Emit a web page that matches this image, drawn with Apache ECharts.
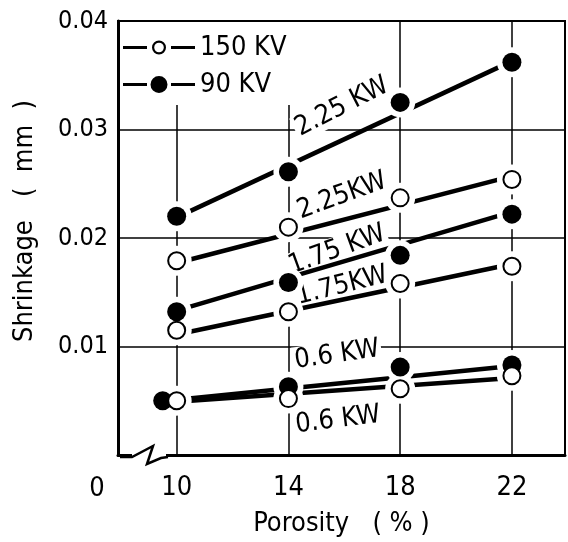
<!DOCTYPE html>
<html>
<head>
<meta charset="utf-8">
<script src="https://cdn.jsdelivr.net/npm/echarts@6/dist/echarts.min.js"></script>
<style>
  html, body { margin: 0; padding: 0; background: #fff; }
  #chart { width: 568px; height: 542px; }
</style>
</head>
<body>
<div id="chart"></div>
<script>
// porosity (%) where the samples were taken
const porosity = [10, 14, 18, 22];
// the 90 KV / 0.6 KW point at 10 % is drawn shifted left so it does not hide the open one
const porosity90low = [9.5, 14, 18, 22];
const xTicks = [10, 14, 18, 22];

// measured shrinkage (mm)
const kv150_225 = [0.0179, 0.0210, 0.0237, 0.0254];
const kv150_175 = [0.0115, 0.0132, 0.0158, 0.0174];
const kv150_06 = [0.0050, 0.0052, 0.0061, 0.0073];
const kv90_225 = [0.0220, 0.0261, 0.0325, 0.0362];
const kv90_175 = [0.0132, 0.0159, 0.0184, 0.0222];
const kv90_06 = [0.0050, 0.0063, 0.0081, 0.0083];

// straight fitted lines, value at 10 % and 22 %
const fitX = [10, 22];
const fit150_225 = [0.0177, 0.0257];
const fit150_175 = [0.0111, 0.0176];
const fit150_06 = [0.0049, 0.0071];
const fit90_225 = [0.0219, 0.0363];
const fit90_175 = [0.0133, 0.0224];
const fit90_06 = [0.0051, 0.0082];

const font = 'DejaVu Sans Condensed, DejaVu Sans, sans-serif';
const pair = (xs, ys) => ys.map((v, i) => [xs[i], v]);

const fits = [fit90_225, fit150_225, fit90_175, fit150_175, fit90_06, fit150_06];
const pts150 = [].concat(pair(porosity, kv150_225), pair(porosity, kv150_175), pair(porosity, kv150_06));
const pts90 = [].concat(pair(porosity, kv90_225), pair(porosity, kv90_175), pair(porosity90low, kv90_06));

// legend icons "—o—" and "—●—" (corner moves keep the box 72x18)
const box = 'M0 0 L0.01 0 Z M72 18 L71.99 18 Z ';
const bars = 'M0 7.5 H24 V10.5 H0 Z M48 7.5 H72 V10.5 H48 Z ';
const iconOpen = 'path://' + box + bars +
  'M29 9 A7 7 0 1 1 43 9 A7 7 0 1 1 29 9 Z M31.2 9 A4.8 4.8 0 1 0 40.8 9 A4.8 4.8 0 1 0 31.2 9 Z';
const iconFilled = 'path://' + box + bars +
  'M27.5 9 A8.5 8.5 0 1 1 44.5 9 A8.5 8.5 0 1 1 27.5 9 Z';

const series = [];
fits.forEach((f) => {
  series.push({
    type: 'line',
    data: pair(fitX, f),
    symbol: 'none',
    silent: true,
    z: 2,
    lineStyle: { color: '#000', width: 4.5 },
  });
});
// white rim round every marker, gives the gaps in lines and grid
series.push({
  type: 'scatter',
  data: pts90.concat(pts150),
  symbolSize: 30,
  silent: true,
  z: 3,
  itemStyle: { color: '#fff', opacity: 1 },
});
series.push({
  name: '90 KV',
  type: 'scatter',
  data: pts90,
  symbolSize: 19,
  z: 4,
  itemStyle: { color: '#000', opacity: 1 },
});
series.push({
  name: '150 KV',
  type: 'scatter',
  data: pts150,
  symbolSize: 17,
  z: 5,
  itemStyle: { color: '#fff', borderColor: '#000', borderWidth: 2, opacity: 1 },
});

// power labels along the lines
const kwLabel = (text, x, y, deg) => ({
  type: 'text',
  x, y,
  rotation: deg * Math.PI / 180,
  z: 1,
  style: {
    text,
    fontSize: 27,
    fontFamily: font,
    fill: '#000',
    align: 'center',
    verticalAlign: 'middle',
    backgroundColor: '#fff',
    padding: [0, 2],
  },
});

const option = {
  animation: false,
  backgroundColor: '#fff',
  grid: {
    left: 118,
    right: 3,
    top: 21,
    bottom: 85,
    show: true,
    borderColor: '#000',
    borderWidth: 2,
  },
  legend: {
    orient: 'vertical',
    left: 120,
    top: 22,
    padding: [11, 8, 6, 3],
    backgroundColor: '#fff',
    itemWidth: 72,
    itemHeight: 18,
    itemGap: 8,
    selectedMode: false,
    textStyle: { fontSize: 27, fontFamily: font, color: '#000', lineHeight: 29 },
    data: [
      { name: '150 KV', icon: iconOpen, itemStyle: { color: '#000', borderWidth: 0, opacity: 1 } },
      { name: '90 KV', icon: iconFilled, itemStyle: { color: '#000', borderWidth: 0, opacity: 1 } },
    ],
  },
  xAxis: {
    type: 'value',
    min: 7.9,
    max: 23.9,
    name: 'Porosity   ( % )',
    nameLocation: 'middle',
    nameGap: 55,
    nameTextStyle: { fontSize: 27, fontFamily: font, color: '#000' },
    axisLine: { lineStyle: { color: '#000', width: 3 } },
    axisTick: { show: false, customValues: xTicks },
    axisLabel: { customValues: xTicks, fontSize: 27, fontFamily: font, color: '#000', margin: 19 },
    splitLine: { show: true, lineStyle: { color: '#000', width: 1.5 } },
  },
  yAxis: {
    type: 'value',
    min: 0,
    max: 0.04,
    interval: 0.01,
    name: 'Shrinkage   (  mm  )',
    nameLocation: 'middle',
    nameGap: 80,
    nameTextStyle: { fontSize: 27, fontFamily: font, color: '#000', padding: [0, 0, 0, 34] },
    axisLine: { lineStyle: { color: '#000', width: 3 } },
    axisTick: { show: false },
    axisLabel: {
      fontSize: 25,
      fontFamily: font,
      color: '#000',
      margin: 10,
      formatter: (v) => (v === 0 ? '' : v.toFixed(2)),
    },
    splitLine: { show: true, lineStyle: { color: '#000', width: 1.5 } },
  },
  graphic: [
    // broken x axis near the origin
    { type: 'rect', z: 100, shape: { x: 132, y: 452, width: 34, height: 9 }, style: { fill: '#fff' } },
    {
      type: 'polyline',
      z: 101,
      shape: { points: [[120, 457], [132, 457], [153, 446], [147, 464], [161, 458], [168, 457]] },
      style: { stroke: '#000', lineWidth: 2.5, fill: null },
    },
    {
      type: 'text', x: 97, y: 489, z: 100,
      style: { text: '0', fontSize: 27, fontFamily: font, fill: '#000', align: 'center', verticalAlign: 'middle' },
    },
    kwLabel('2.25 KW', 342, 107, 27),
    kwLabel('2.25KW', 342, 196, 20),
    kwLabel('1.75 KW', 337, 250, 20),
    kwLabel('1.75KW', 342, 286, 14),
    kwLabel('0.6 KW', 337, 355, 8),
    kwLabel('0.6 KW', 338, 420, 7),
  ],
  series,
};

const chart = echarts.init(document.getElementById('chart'));
chart.setOption(option);
</script>
</body>
</html>
